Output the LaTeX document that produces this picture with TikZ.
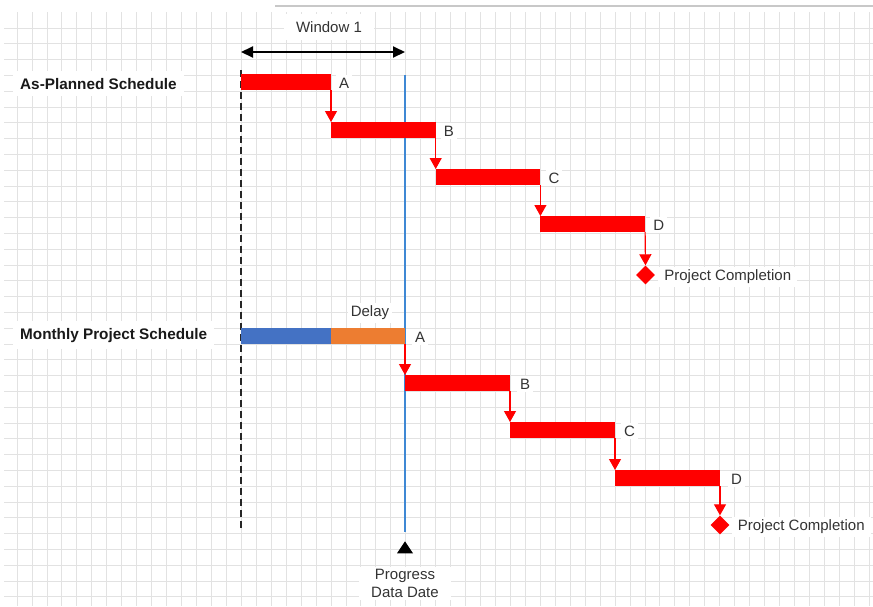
\documentclass[tikz,border=0pt]{standalone}
\usepackage{fontspec}
\setmainfont{Liberation Sans}
\usetikzlibrary{shapes.geometric,arrows.meta}
\definecolor{gridgray}{HTML}{E2E2E2}
\definecolor{rulegray}{HTML}{C8C8C8}
\definecolor{barred}{HTML}{FF0000}
\definecolor{actualblue}{HTML}{4472C4}
\definecolor{delayorange}{HTML}{ED7D31}
\definecolor{dateblue}{HTML}{3F88D4}
\definecolor{txtgray}{HTML}{333333}
\begin{document}
\begin{tikzpicture}[x=1pt,y=-1pt,
  gridline/.style={draw=gridgray, line width=0.8pt},
  bar/.style={draw=none, minimum height=16pt, inner sep=0pt, outer sep=0pt, anchor=north west},
  plan/.style={bar, fill=barred},
  dep/.style={draw=barred, line width=1.2pt, -{Triangle[width=12pt,length=11pt]}},
  tag/.style={fill=white, text=txtgray, font=\fontsize{15}{18}\selectfont, inner sep=3pt},
  heading/.style={fill=white, text=black!90, font=\fontsize{15.3}{18}\selectfont\bfseries, inner xsep=7pt, inner ysep=7pt},
  milestone/.style={diamond, fill=barred, minimum width=19pt, minimum height=19pt, inner sep=0pt}]
\useasboundingbox (0,0) rectangle (873,606);
\fill[white] (0,0) rectangle (873,606);

% squared paper
\foreach \k in {0,...,57}
  \draw[gridline] ({17+14.95*\k},12) -- ({17+14.95*\k},606);
\foreach \k in {0,...,36}
  \draw[gridline] (4,{28+15.8*\k}) -- (873,{28+15.8*\k});
\draw[draw=rulegray, line width=2pt] (275,6) -- (873,6);

% window boundaries
\coordinate (wstart) at (241,70);
\coordinate (wend) at (241,528);
\draw[black!85, line width=1.6pt, dash pattern=on 7pt off 4pt] (wstart) -- (wend);
\coordinate (ddtop) at (405,75);
\coordinate (ddbot) at (405,532);
\draw[dateblue, line width=1.2pt] (ddtop) -- (ddbot);

% window span
\coordinate (wl) at (241,52);
\coordinate (wr) at (405,52);
\draw[black, line width=2pt, {Triangle[width=11pt,length=12pt]}-{Triangle[width=11pt,length=12pt]}] (wl) -- (wr);
\node[tag, inner xsep=12pt, inner ysep=7pt] (window) at (329,27) {Window 1};

% as-planned schedule
\node[heading, anchor=base west] (hplan) at (13,89) {As-Planned Schedule};
\node[plan, minimum width=90pt] (pa) at (241,74) {};
\node[plan, minimum width=104.7pt] (pb) at (pa.south east |- 0,122) {};
\node[plan, minimum width=104.7pt] (pc) at (pb.south east |- 0,169) {};
\node[plan, minimum width=104.7pt] (pd) at (pc.south east |- 0,216) {};
\node[milestone] (pend) at (645.5,275) {};
\draw[dep] (pa.south east) -- (pb.north west);
\draw[dep] (pb.south east) -- (pc.north west);
\draw[dep] (pc.south east) -- (pd.north west);
\draw[dep] (pd.south east) -- (pend.north);
\node[tag, anchor=west] (la) at ([xshift=5pt,yshift=-1pt]pa.east) {A};
\node[tag, anchor=west] (lb) at ([xshift=5pt,yshift=-1pt]pb.east) {B};
\node[tag, anchor=west] (lc) at ([xshift=5pt,yshift=-1pt]pc.east) {C};
\node[tag, anchor=west] (ld) at ([xshift=5pt,yshift=-1pt]pd.east) {D};
\node[tag, anchor=west, inner xsep=6pt] (lpend) at ([xshift=3pt,yshift=-2pt]pend.east) {Project Completion};

% monthly project schedule
\node[heading, anchor=base west] (hmonth) at (13,339) {Monthly Project Schedule};
\node[bar, fill=actualblue, minimum width=90pt] (ma) at (241,328) {};
\node[bar, fill=delayorange, minimum width=74pt] (mdelay) at (ma.north east) {};
\node[tag] (delay) at (370,313) {Delay};
\node[plan, minimum width=105pt] (mb) at (mdelay.south east |- 0,375) {};
\node[plan, minimum width=105pt] (mc) at (mb.south east |- 0,422) {};
\node[plan, minimum width=105pt] (md) at (mc.south east |- 0,470) {};
\node[milestone] (mend) at (720,525) {};
\draw[dep] (mdelay.south east) -- (mb.north west);
\draw[dep] (mb.south east) -- (mc.north west);
\draw[dep] (mc.south east) -- (md.north west);
\draw[dep] (md.south east) -- (mend.north);
\node[tag, anchor=west] (mla) at ([xshift=7pt,yshift=-1pt]mdelay.east) {A};
\node[tag, anchor=west] (mlb) at ([xshift=7pt,yshift=-1pt]mb.east) {B};
\node[tag, anchor=west] (mlc) at ([xshift=6pt,yshift=-1pt]mc.east) {C};
\node[tag, anchor=west] (mld) at ([xshift=8pt,yshift=-1pt]md.east) {D};
\node[tag, anchor=west, inner xsep=6pt] (lmend) at ([xshift=2pt,yshift=-2pt]mend.east) {Project Completion};

% progress data date marker
\node[isosceles triangle, shape border rotate=90, isosceles triangle stretches,
      minimum width=16pt, minimum height=12pt, inner sep=0pt, fill=black] (marker) at (405,549) {};
\node[tag, align=center, anchor=north, inner xsep=12pt, inner ysep=2pt] (datadate) at (405,567) {Progress\\Data Date};
\end{tikzpicture}
\end{document}
